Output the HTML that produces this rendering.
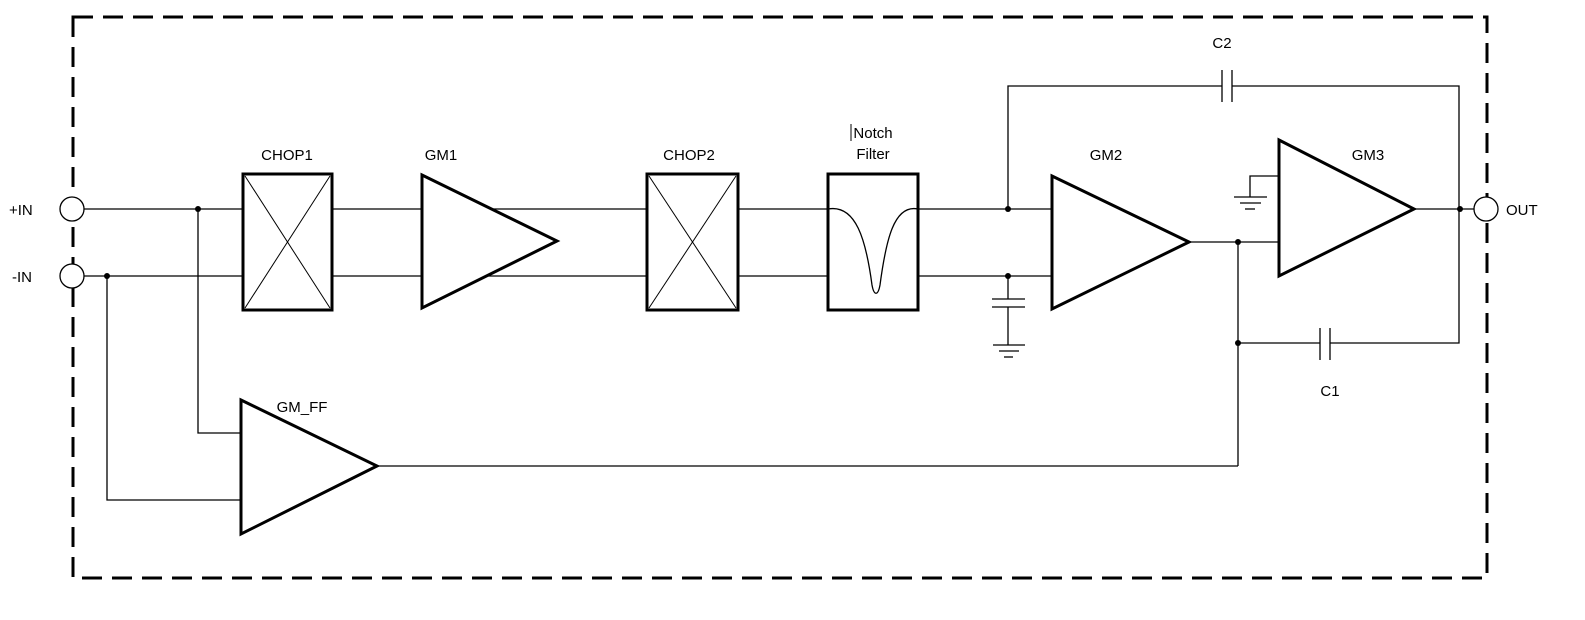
<!DOCTYPE html>
<html><head><style>html,body{margin:0;padding:0;background:#fff}svg{display:block}text{font-family:"Liberation Sans",sans-serif;font-size:15px;fill:#000}</style></head><body>
<svg width="1585" height="620" viewBox="0 0 1585 620" xmlns="http://www.w3.org/2000/svg">
<rect x="73" y="17" width="1414" height="561" fill="none" stroke="#000" stroke-width="3" stroke-dasharray="20,10"/>
<g stroke="#000" stroke-width="1.3" fill="none">
<line x1="84" y1="209" x2="243" y2="209"/>
<line x1="84" y1="276" x2="243" y2="276"/>
<polyline points="198,209 198,433 241,433"/>
<polyline points="107,276 107,500 241,500"/>
<line x1="332" y1="209" x2="422" y2="209"/>
<line x1="332" y1="276" x2="422" y2="276"/>
<line x1="491" y1="209" x2="647" y2="209"/>
<line x1="486" y1="276" x2="647" y2="276"/>
<line x1="738" y1="209" x2="828" y2="209"/>
<line x1="738" y1="276" x2="828" y2="276"/>
<line x1="918" y1="209" x2="1052" y2="209"/>
<line x1="918" y1="276" x2="1052" y2="276"/>
<polyline points="1008,209 1008,86 1222,86"/>
<polyline points="1232,86 1459,86 1459,209"/>
<line x1="1222" y1="70" x2="1222" y2="102"/>
<line x1="1232" y1="70" x2="1232" y2="102"/>
<line x1="1008" y1="276" x2="1008" y2="299"/>
<line x1="992" y1="299" x2="1025" y2="299"/>
<line x1="992" y1="307" x2="1025" y2="307"/>
<line x1="1008" y1="307" x2="1008" y2="345"/>
<line x1="993" y1="345" x2="1025" y2="345"/>
<line x1="999" y1="351" x2="1019" y2="351"/>
<line x1="1004" y1="357" x2="1013" y2="357"/>
<line x1="1189" y1="242" x2="1279" y2="242"/>
<polyline points="1279,176 1250,176 1250,197"/>
<line x1="1234" y1="197" x2="1267" y2="197"/>
<line x1="1240" y1="203" x2="1261" y2="203"/>
<line x1="1245" y1="209" x2="1255" y2="209"/>
<line x1="1414" y1="209" x2="1474" y2="209"/>
<line x1="1238" y1="242" x2="1238" y2="466"/>
<line x1="1238" y1="343" x2="1320" y2="343"/>
<polyline points="1330,343 1459,343 1459,209"/>
<line x1="1320" y1="328" x2="1320" y2="360"/>
<line x1="1330" y1="328" x2="1330" y2="360"/>
<line x1="377" y1="466" x2="1238" y2="466"/>
<path d="M828,209 C856,204 866,240 872,285 C874,296 878,296 880,285 C886,240 894,204 918,209"/>
</g>
<g stroke="#000" stroke-width="1.3" fill="#fff">
<circle cx="72" cy="209" r="12"/>
<circle cx="72" cy="276" r="12"/>
<circle cx="1486" cy="209" r="12"/>
</g>
<g stroke="#000" stroke-width="3" fill="none">
<rect x="243" y="174" width="89" height="136"/>
<rect x="647" y="174" width="91" height="136"/>
<rect x="828" y="174" width="90" height="136"/>
<polygon points="422,175 557,241 422,308"/>
<polygon points="1052,176 1189,242 1052,309"/>
<polygon points="1279,140 1414,209 1279,276"/>
<polygon points="241,400 377,466 241,534"/>
</g>
<g stroke="#000" stroke-width="1">
<line x1="245" y1="176" x2="330" y2="308"/><line x1="330" y1="176" x2="245" y2="308"/>
<line x1="649" y1="176" x2="736" y2="308"/><line x1="736" y1="176" x2="649" y2="308"/>
</g>
<g fill="#000">
<circle cx="198" cy="209" r="3"/><circle cx="107" cy="276" r="3"/>
<circle cx="1008" cy="209" r="3"/><circle cx="1008" cy="276" r="3"/>
<circle cx="1238" cy="242" r="3"/><circle cx="1238" cy="343" r="3"/>
<circle cx="1460" cy="209" r="3"/>
</g>
<text x="9" y="215">+IN</text>
<text x="12" y="282">-IN</text>
<text x="1506" y="215">OUT</text>
<text x="287" y="160" text-anchor="middle">CHOP1</text>
<text x="441" y="160" text-anchor="middle">GM1</text>
<text x="689" y="160" text-anchor="middle">CHOP2</text>
<text x="873" y="138" text-anchor="middle">Notch</text>
<text x="873" y="159" text-anchor="middle">Filter</text>
<line x1="851" y1="124" x2="851" y2="141" stroke="#000" stroke-width="1"/>
<text x="1106" y="160" text-anchor="middle">GM2</text>
<text x="1368" y="160" text-anchor="middle">GM3</text>
<text x="1222" y="48" text-anchor="middle">C2</text>
<text x="1330" y="396" text-anchor="middle">C1</text>
<text x="302" y="412" text-anchor="middle">GM_FF</text>
</svg>
</body></html>
